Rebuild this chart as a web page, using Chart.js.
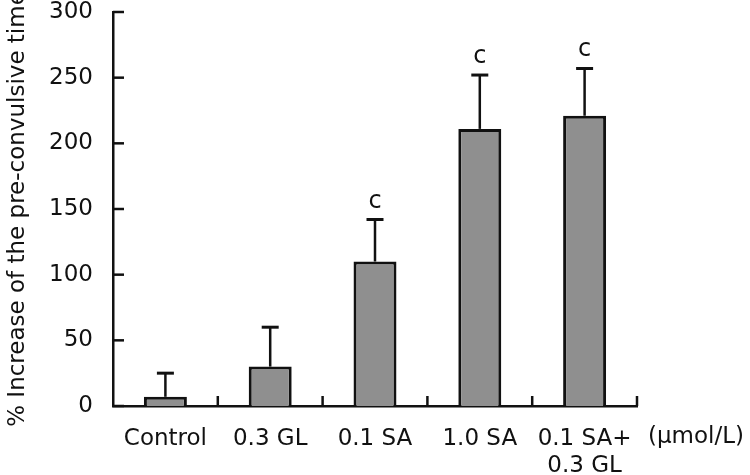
<!DOCTYPE html>
<html>
<head>
<meta charset="utf-8">
<script src="https://cdn.jsdelivr.net/npm/chart.js@4"></script>
<style>
  body { margin: 0; background: #fff; }
  #wrap { width: 750px; height: 475px; }
</style>
</head>
<body>
<div id="wrap"><canvas id="preChart" width="750" height="475"></canvas></div>
<script>
// data
const groups = ['Control', '0.3 GL', '0.1 SA', '1.0 SA', ['0.1 SA+', '0.3 GL']];
const meanIncrease = [7, 30, 110, 211, 221];
const sdIncrease = [18, 30, 32, 41, 36];
const sigMarks = ['', '', 'c', 'c', 'c'];
const yTicks = [0, 50, 100, 150, 200, 250, 300];
const unitLabel = '(\u03bcmol/L)';

const inkColor = '#111';
const fontFam = '"DejaVu Sans", sans-serif';

// inward tick marks, error bars, significance letters and unit label
const extrasPlugin = {
    id: 'extras',
    afterDatasetsDraw(chart) {
        const ctx = chart.ctx;
        const x = chart.scales.x;
        const y = chart.scales.y;
        const meta = chart.getDatasetMeta(0);
        ctx.save();
        ctx.strokeStyle = inkColor;
        ctx.lineWidth = 2.5;

        // y ticks pointing into the plot
        yTicks.forEach(v => {
            const py = y.getPixelForValue(v);
            ctx.beginPath();
            ctx.moveTo(x.left, py);
            ctx.lineTo(x.left + 11, py);
            ctx.stroke();
        });
        // x ticks between categories, pointing up
        for (let i = 0; i < groups.length; i++) {
            const px = x.getPixelForValue(i + 0.5);
            ctx.beginPath();
            ctx.moveTo(px, y.bottom);
            ctx.lineTo(px, y.bottom - 10);
            ctx.stroke();
        }

        // error bars (upper only)
        meta.data.forEach((bar, i) => {
            const top = y.getPixelForValue(meanIncrease[i]);
            const end = y.getPixelForValue(meanIncrease[i] + sdIncrease[i]);
            ctx.lineWidth = 2.5;
            ctx.beginPath();
            ctx.moveTo(bar.x, top);
            ctx.lineTo(bar.x, end);
            ctx.stroke();
            ctx.lineWidth = 3;
            ctx.beginPath();
            ctx.moveTo(bar.x - 8.5, end);
            ctx.lineTo(bar.x + 8.5, end);
            ctx.stroke();
            if (sigMarks[i]) {
                ctx.fillStyle = inkColor;
                ctx.font = '24px ' + fontFam;
                ctx.textAlign = 'center';
                ctx.textBaseline = 'alphabetic';
                ctx.fillText(sigMarks[i], bar.x, end - 12);
            }
        });

        // unit label next to the category labels
        ctx.fillStyle = inkColor;
        ctx.font = '23px ' + fontFam;
        ctx.textAlign = 'left';
        ctx.textBaseline = 'middle';
        ctx.fillText(unitLabel, x.right + 11, y.bottom + 31);
        ctx.restore();
    }
};

new Chart(document.getElementById('preChart'), {
    type: 'bar',
    data: {
        labels: groups,
        datasets: [{
            data: meanIncrease,
            backgroundColor: '#8f8f8f',
            borderColor: inkColor,
            borderWidth: 3,
            categoryPercentage: 1,
            barPercentage: 0.41
        }]
    },
    options: {
        responsive: false,
        animation: false,
        layout: { padding: { left: 0, right: 113, top: 12, bottom: 0 } },
        plugins: {
            legend: { display: false },
            tooltip: { enabled: false }
        },
        scales: {
            x: {
                grid: { display: false },
                border: { display: true, color: inkColor, width: 2.5 },
                ticks: {
                    color: inkColor,
                    font: { family: fontFam, size: 23, lineHeight: 1.2 },
                    padding: 11,
                    maxRotation: 0,
                    autoSkip: false
                },
                afterFit(scale) { scale.height = 69; }
            },
            y: {
                min: 0,
                max: 300,
                grid: { display: false },
                border: { display: true, color: inkColor, width: 2.5 },
                afterBuildTicks(scale) {
                    scale.ticks = yTicks.map(v => ({ value: v }));
                },
                ticks: {
                    color: inkColor,
                    font: { family: fontFam, size: 23 },
                    padding: 12
                },
                title: {
                    display: true,
                    text: '% Increase of the pre-convulsive time',
                    color: inkColor,
                    font: { family: fontFam, size: 23 },
                    padding: { top: 4, bottom: 0 }
                },
                afterFit(scale) {
                    scale.width = 113;
                    scale.paddingTop = 0;
                    scale.paddingBottom = 0;
                }
            }
        }
    },
    plugins: [extrasPlugin]
});
</script>
</body>
</html>
